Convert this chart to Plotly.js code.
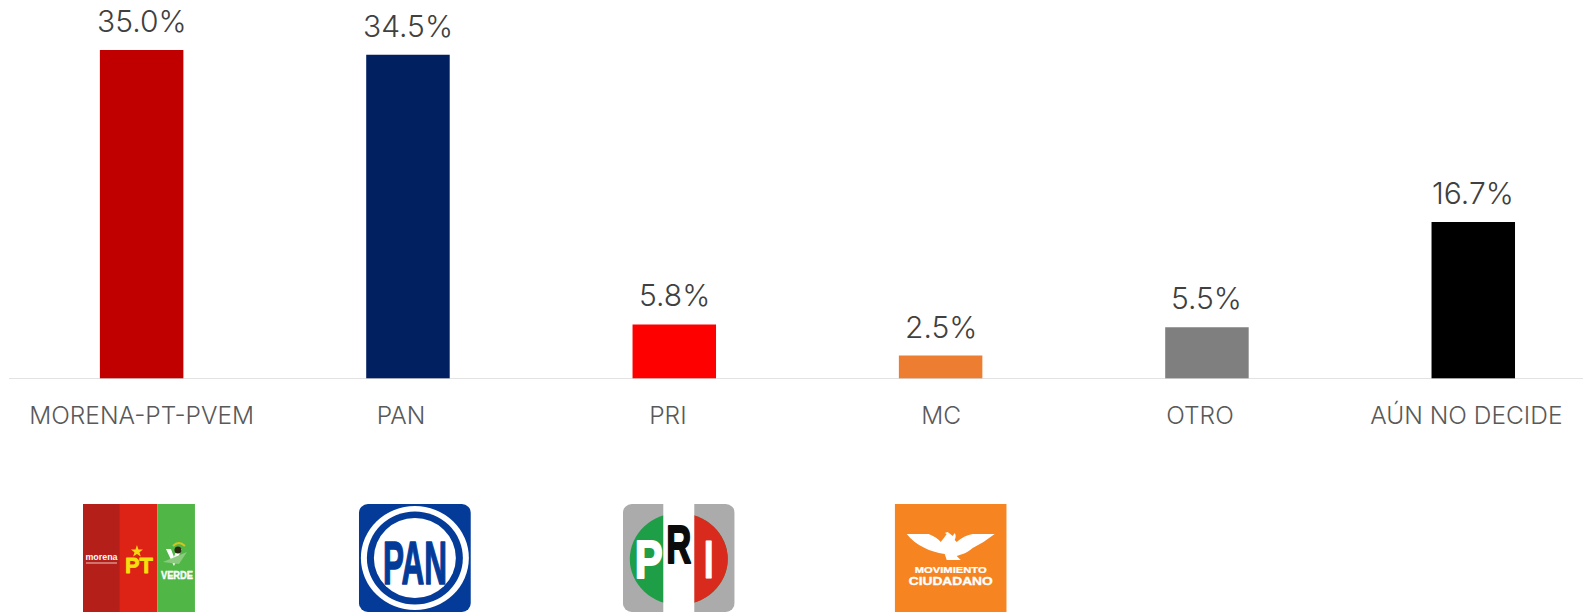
<!DOCTYPE html>
<html><head><meta charset="utf-8">
<script src="https://cdn.plot.ly/plotly-3.0.1.min.js"></script>
<style>html,body{margin:0;padding:0;background:#fff;overflow:hidden}#c{width:1583px;height:612px}</style>
</head><body><div id="c"></div>
<script>
const categories = ["MORENA-PT-PVEM","PAN","PRI","MC","OTRO","AÚN NO DECIDE"];
const values = [35.0,34.5,5.8,2.5,5.5,16.7];
const colors = ["#C00000","#002060","#FF0000","#ED7D31","#7F7F7F","#000000"];
const labelOffsets = [0,-0.026,-0.024,0.002,-0.026,-0.026];

const W=1583,H=612,L=8.5,BASE=379;
const px=(x)=>(x-L)/(W-L), py=(y)=>(BASE-y)/BASE;
const bold=(c,w)=>`stroke="${c}" stroke-width="${w}" stroke-linejoin="round"`;
const svg=(s)=>"data:image/svg+xml;charset=utf-8,"+encodeURIComponent(`<svg xmlns="http://www.w3.org/2000/svg" width="336" height="324" viewBox="0 0 112 108">${s}</svg>`);
const logoMorena=svg(`<rect width="37" height="108" fill="#B41F19"/><rect x="37" width="37.5" height="108" fill="#DC2316"/><rect x="74.5" width="37.5" height="108" fill="#50B747"/>
<text x="18.5" y="56" font-family="Liberation Sans" font-weight="700" font-size="8.5" fill="#fff" text-anchor="middle" textLength="32" lengthAdjust="spacingAndGlyphs">morena</text><rect x="3" y="58.5" width="31" height="1" fill="#e9c9c0"/>
<polygon points="54,41 55.5,45.5 60,45.5 56.5,48.3 57.8,52.5 54,50 50.2,52.5 51.5,48.3 48,45.5 52.5,45.5" fill="#F5D80F"/>
<text x="56" y="69" font-family="Liberation Sans" font-weight="700" font-size="23" fill="#F5E00F" ${bold("#F5E00F",0.8)} text-anchor="middle" textLength="28" lengthAdjust="spacingAndGlyphs">PT</text>
<path d="M83,45 L91,62 L99,45 L94,45 L91,53 L88,45Z" fill="#fff"/><path d="M80,58 L104,48 L96,60Z" fill="#8CCB7F"/><circle cx="95" cy="46" r="3.5" fill="#2a2a10"/><path d="M90,42 Q96,36 102,42" stroke="#D9C21A" stroke-width="2" fill="none"/>
<text x="94" y="75" font-family="Liberation Sans" font-weight="700" font-size="10.5" fill="#fff" ${bold("#fff",0.4)} text-anchor="middle" textLength="32" lengthAdjust="spacingAndGlyphs">VERDE</text>`);
const logoPan=svg(`<rect width="112" height="108" rx="9" fill="#043B98"/><ellipse cx="56" cy="54" rx="54" ry="52" fill="#fff"/><ellipse cx="56" cy="54" rx="48" ry="46.5" fill="#043B98"/><ellipse cx="56" cy="54" rx="41" ry="40" fill="#fff"/>
<text x="56" y="80" font-family="Liberation Sans" font-weight="700" font-size="62" fill="#043B98" ${bold("#043B98",1.6)} text-anchor="middle" textLength="64" lengthAdjust="spacingAndGlyphs">PAN</text>`);
const logoPri=svg(`<clipPath id="r"><rect width="112" height="108" rx="9"/></clipPath><g clip-path="url(#r)"><rect width="112" height="108" fill="#ABABAC"/>
<ellipse cx="56" cy="55" rx="49" ry="46" fill="#1E9E47"/><path d="M56,9 A49,46 0 0 1 56,101Z" fill="#D92A1E"/><rect x="40.5" width="31" height="108" fill="#fff"/>
<text x="26" y="74" font-family="Liberation Sans" font-weight="700" font-size="54" fill="#fff" ${bold("#fff",2)} text-anchor="middle" textLength="28" lengthAdjust="spacingAndGlyphs">P</text>
<text x="56" y="59" font-family="Liberation Sans" font-weight="700" font-size="54" fill="#0b0b0b" ${bold("#0b0b0b",2)} text-anchor="middle" textLength="25" lengthAdjust="spacingAndGlyphs">R</text>
<text x="86" y="74" font-family="Liberation Sans" font-weight="700" font-size="54" fill="#fff" ${bold("#fff",1)} text-anchor="middle" textLength="10" lengthAdjust="spacingAndGlyphs">I</text></g>`);
const logoMc=svg(`<rect width="112" height="108" fill="#F68420"/>
<path d="M12,30 L34,30 Q42,33 46,38 Q50,33 52,30 L50,29 L53,28 L58,32 L60,29 Q62,32 60,36 L62,38 Q70,31 78,30 L100,30 Q90,38 78,44 Q72,49 68,50 L62,52 L66,56 L52,56 L50,50 Q38,48 30,44 Q19,39 12,30Z" fill="#fff"/>
<text x="56" y="69" font-family="Liberation Sans" font-weight="700" font-size="8.6" fill="#fff" ${bold("#fff",0.25)} text-anchor="middle" textLength="72" lengthAdjust="spacingAndGlyphs">MOVIMIENTO</text>
<text x="56" y="81" font-family="Liberation Sans" font-weight="700" font-size="11.5" fill="#fff" ${bold("#fff",0.35)} text-anchor="middle" textLength="84" lengthAdjust="spacingAndGlyphs">CIUDADANO</text>`);
const logos=[[82.5,logoMorena],[358.5,logoPan],[622.5,logoPri],[894.5,logoMc]];

const idx=categories.map((_,i)=>i);
Plotly.newPlot("c",[{type:"bar",x:idx,y:values,width:0.3135,marker:{color:colors,line:{width:0}},hoverinfo:"skip",cliponaxis:false}],{
  width:W,height:H,margin:{l:L,r:0,t:0,b:H-BASE,pad:0},paper_bgcolor:"#fff",plot_bgcolor:"#fff",showlegend:false,
  xaxis:{range:[-0.498,5.412],showgrid:false,zeroline:false,showline:false,ticks:"",tickmode:"array",
    tickvals:idx.map(i=>i+labelOffsets[i]),ticktext:categories,tickangle:0,ticklabelstandoff:19,
    tickfont:{family:"Inter, sans-serif",size:24.5,weight:300,color:"#595959"}},
  yaxis:{range:[0,40.32],visible:false,fixedrange:true},
  shapes:[{type:"line",xref:"paper",yref:"y",x0:0,x1:1,y0:0,y1:0,line:{color:"#D9D9D9",width:1.5},layer:"above"}],
  annotations:idx.map(i=>({x:i,y:values[i],xref:"x",yref:"y",text:values[i].toFixed(1)+"%",showarrow:false,yanchor:"bottom",xanchor:"center",yshift:9,
    font:{family:"Inter, sans-serif",size:30,weight:300,color:"#404040"}})),
  images:logos.map(([x,src])=>({source:src,xref:"paper",yref:"paper",x:px(x),y:py(504),sizex:112/(W-L),sizey:108/BASE,xanchor:"left",yanchor:"top",sizing:"stretch",layer:"above"}))
},{staticPlot:true,displayModeBar:false});
</script></body></html>
